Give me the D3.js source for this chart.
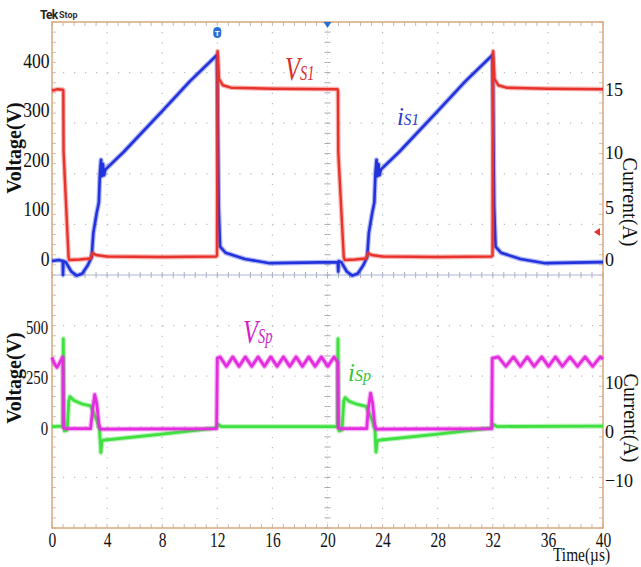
<!DOCTYPE html>
<html><head><meta charset="utf-8">
<script src="https://cdn.jsdelivr.net/npm/d3@7"></script>
<style>
html,body{margin:0;padding:0;background:#fff;}
svg{display:block;}
</style></head>
<body>
<script>
// ---------- tick labels ----------
const timeTicks = [0,4,8,12,16,20,24,28,32,36,40];
const vUpperTicks = [0,100,200,300,400];
const iUpperTicks = [0,5,10,15];
const vLowerTicks = [0,250,500];
const iLowerTicks = [-10,0,10];

// ---------- series (time in µs) ----------
// V_S1 (V), upper panel, left axis
const vS1 = [
 [0,338],[0.4,341],[0.78,340],[0.82,338],[0.84,215],[1.2,2],[1.25,-4],[2.0,-3],[2.8,-1],[2.95,10],[3.2,6],[4,3],[8,2],[11.9,3],[11.98,5],
 [12.02,418],[12.12,362],[12.4,349],[13,344],[16,342],[20.72,341],
 [20.76,338],[20.78,215],[21.18,2],[21.25,-4],[22,-3],[22.8,-1],[22.95,10],[23.2,6],[24,3],[28,2],[31.9,3],[31.98,5],
 [32.02,418],[32.12,362],[32.4,349],[33,344],[36,342],[40,341]
];
// i_S1 (A), upper panel, right axis
const iS1 = [
 [0,-0.2],[0.5,-0.1],[0.78,-0.2],[0.8,-1.5],[0.83,-0.2],[1.0,-0.3],[1.4,-1.2],[1.8,-1.6],[2.2,-1.4],[2.6,-0.6],[2.88,0.2],
 [3.0,2.5],[3.24,4.4],[3.4,5.4],[3.48,8.1],[3.56,9.3],[3.62,7.8],[3.7,8.9],[3.78,7.9],[3.87,8.4],[5.2,10.0],[8,13.25],[10,15.6],[11.98,17.7],
 [12.1,5],[12.2,1.2],[12.6,0.6],[14,0],[15.8,-0.4],[20.74,-0.3],
 [20.78,-1.2],[20.82,-0.2],[21.0,-0.3],[21.4,-1.2],[21.8,-1.6],[22.2,-1.4],[22.6,-0.6],[22.88,0.2],
 [23.0,2.5],[23.24,4.4],[23.4,5.4],[23.48,8.1],[23.56,9.3],[23.62,7.8],[23.7,8.9],[23.78,7.9],[23.87,8.4],[25.2,10.0],[28,13.25],[30,15.6],[31.98,17.7],
 [32.1,5],[32.2,1.2],[32.6,0.6],[34,0],[35.8,-0.4],[40,-0.3]
];
// V_Sp (V), lower panel, left axis
const vSp = [
 [0,350],[0.15,322],[0.36,300],[0.55,322],[0.76,350],[0.8,348],[0.84,0],[1.0,-3],[2.8,-3],[2.95,90],[3.1,165],[3.25,120],[3.4,20],[3.5,-6],[6,-5],[11.95,-3],
 [12.0,345],[12.2,352],[12.66,305],[13.12,352],[13.58,305],[14.04,352],[14.5,305],[14.96,352],[15.42,305],[15.88,352],[16.34,305],[16.8,352],
 [17.26,305],[17.72,352],[18.18,305],[18.64,352],[19.1,305],[19.56,352],[20.02,305],[20.48,352],[20.74,325],
 [20.78,0],[21,-3],[22.85,-3],[22.95,90],[23.13,172],[23.28,120],[23.42,20],[23.52,-6],[26,-5],[31.92,-3],
 [31.96,345],[32.4,352],[32.95,305],[33.5,352],[34.0,305],[34.5,352],[35.0,305],[35.55,352],[36.05,305],[36.55,352],[37.05,305],
 [37.6,352],[38.15,305],[38.7,352],[39.25,305],[39.8,352],[40,340]
];
// i_Sp (A), lower panel, right axis
const iSp = [
 [0,0.3],[0.78,0.4],[0.82,18.2],[0.86,3],[0.9,-0.6],[1.1,-0.4],[1.22,5.5],[1.3,6.4],[1.6,5.6],[2.2,4.9],[2.8,4.5],[2.95,3.5],[3.24,1.6],[3.45,-0.4],[3.55,-5],[3.62,-2.8],[3.7,-2.5],[7.8,-1.3],[11.9,0],
 [12.05,0.7],[12.3,0.3],[20.72,0.3],
 [20.76,18.2],[20.8,3],[20.84,-0.6],[21.05,-0.4],[21.18,5.5],[21.28,6.2],[21.6,5.4],[22.2,4.8],[22.8,4.4],[22.95,3.5],[23.24,1.6],[23.45,-0.4],[23.52,-4.9],[23.6,-2.8],[23.7,-2.5],[27.8,-1.3],[31.9,0],
 [32.05,0.7],[32.3,0.3],[40,0.4]
];

// ---------- drawing ----------
const W = 641, H = 567;
const svg = d3.select("body").append("svg").attr("width", W).attr("height", H);
const L = 52, R = 603, T = 22, B = 528;

const x = d3.scaleLinear().domain([0,40]).range([L,R]);
const yVU = d3.scaleLinear().domain([0,400]).range([258,60]);
const yIU = d3.scaleLinear().domain([0,5,10,15]).range([259,207,152,89]);
const yVL = d3.scaleLinear().domain([0,500]).range([428,327]);
const yIL = d3.scaleLinear().domain([-10,10]).range([477,379]);
const rows = d3.scaleLinear().domain([0,10]).range([T,B]); // screen divisions

const g = svg.append("g");

// grid dots
const gridColor = "#b9b9b9";
timeTicks.filter(t => t>0 && t<40 && t!==20).forEach(t => {
  g.append("line").attr("x1",x(t)).attr("x2",x(t)).attr("y1",T).attr("y2",B)
   .attr("stroke",gridColor).attr("stroke-width",1.2).attr("stroke-dasharray","1.2,8.92");
});
d3.range(1,10).filter(k=>k!==5).forEach(k => {
  g.append("line").attr("x1",L).attr("x2",R).attr("y1",rows(k)).attr("y2",rows(k))
   .attr("stroke",gridColor).attr("stroke-width",1.2).attr("stroke-dasharray","1.2,9.82");
});
// center crosshair
g.append("line").attr("x1",L).attr("x2",R).attr("y1",rows(5)).attr("y2",rows(5))
 .attr("stroke","#aab6d2").attr("stroke-width",1);
d3.range(0,40.01,0.8).forEach(t => {
  g.append("line").attr("x1",x(t)).attr("x2",x(t)).attr("y1",rows(5)-3).attr("y2",rows(5)+3).attr("stroke","#a8b0c4").attr("stroke-width",1);
  g.append("line").attr("x1",x(t)).attr("x2",x(t)).attr("y1",T).attr("y2",T+4).attr("stroke","#c9b9aa").attr("stroke-width",1);
  g.append("line").attr("x1",x(t)).attr("x2",x(t)).attr("y1",B-4).attr("y2",B).attr("stroke","#c9b9aa").attr("stroke-width",1);
});
d3.range(0,10.01,0.2).forEach(k => {
  g.append("line").attr("x1",x(20)-3).attr("x2",x(20)+3).attr("y1",rows(k)).attr("y2",rows(k)).attr("stroke","#a8a8b4").attr("stroke-width",1);
  g.append("line").attr("x1",L).attr("x2",L+4).attr("y1",rows(k)).attr("y2",rows(k)).attr("stroke","#d0c0b4").attr("stroke-width",1);
  g.append("line").attr("x1",R-4).attr("x2",R).attr("y1",rows(k)).attr("y2",rows(k)).attr("stroke","#d0c0b4").attr("stroke-width",1);
});
g.append("line").attr("x1",x(20)).attr("x2",x(20)).attr("y1",T).attr("y2",B).attr("stroke","#c8c8d0").attr("stroke-width",0.8).attr("stroke-dasharray","1,3");

// frame
g.append("rect").attr("x",L).attr("y",T).attr("width",R-L).attr("height",B-T)
 .attr("fill","none").attr("stroke","#d8a87c").attr("stroke-width",1.5);

// traces (fuzzy band + core, like a scope trace)
function trace(data, ys, color, sw){
  const line = d3.line().x(d=>x(d[0])).y(d=>ys(d[1]));
  g.append("path").datum(data).attr("d",line).attr("fill","none")
   .attr("stroke",color).attr("stroke-opacity",0.35).attr("stroke-width",sw+2.4).attr("stroke-linejoin","round");
  g.append("path").datum(data).attr("d",line).attr("fill","none")
   .attr("stroke",color).attr("stroke-width",sw).attr("stroke-linejoin","round");
}
trace(iS1, yIU, "#2233dd", 2.6);
trace(vS1, yVU, "#e8322c", 2.4);
trace(iSp, yIL, "#3fe040", 2.8);
trace(vSp, yVL, "#e52de0", 2.8);

// axes
const serif = "'Liberation Serif','Times New Roman',serif";
function styleAxis(sel, size, sx){
  sel.select(".domain").remove();
  sel.selectAll(".tick line").remove();
  sel.selectAll("text").attr("font-family",serif).attr("font-size",size).attr("fill","#111");
  if (sx) sel.selectAll("text").attr("transform",`scale(${sx},1)`);
}
svg.append("g").attr("transform",`translate(${L},0)`)
  .call(d3.axisLeft(yVU).tickValues(vUpperTicks).tickSize(0).tickPadding(3))
  .call(s=>styleAxis(s,22,0.8));
svg.append("g").attr("transform",`translate(${L},0)`)
  .call(d3.axisLeft(yVL).tickValues(vLowerTicks).tickSize(0).tickPadding(5))
  .call(s=>styleAxis(s,19,0.78));
svg.append("g").attr("transform",`translate(${R},0)`)
  .call(d3.axisRight(yIU).tickValues(iUpperTicks).tickSize(0).tickPadding(2))
  .call(s=>styleAxis(s,19,0.95));
svg.append("g").attr("transform",`translate(${R},0)`)
  .call(d3.axisRight(yIL).tickValues(iLowerTicks).tickSize(0).tickPadding(2))
  .call(s=>{styleAxis(s,19,0.95); s.selectAll("text").attr("dy","0.5em");});
svg.append("g").attr("transform",`translate(0,${B})`)
  .call(d3.axisBottom(x).tickValues(timeTicks).tickFormat(d3.format("d")).tickSize(0).tickPadding(4))
  .call(s=>styleAxis(s,21,0.74));

// axis titles
svg.append("text").attr("transform","translate(21,148) rotate(-90)").attr("text-anchor","middle")
  .attr("font-family",serif).attr("font-weight","bold").attr("font-size",20).attr("fill","#111").text("Voltage(V)");
svg.append("text").attr("transform","translate(21,378) rotate(-90)").attr("text-anchor","middle")
  .attr("font-family",serif).attr("font-weight","bold").attr("font-size",20).attr("fill","#111").text("Voltage(V)");
svg.append("text").attr("transform","translate(623,202) rotate(90)").attr("text-anchor","middle")
  .attr("font-family",serif).attr("font-size",20).attr("fill","#111").text("Current(A)");
svg.append("text").attr("transform","translate(624,418) rotate(90)").attr("text-anchor","middle")
  .attr("font-family",serif).attr("font-size",20).attr("fill","#111").text("Current(A)");
svg.append("text").attr("x",553).attr("y",561).attr("font-family",serif).attr("font-size",18)
  .attr("textLength",57).attr("lengthAdjust","spacingAndGlyphs").attr("fill","#111").text("Time(µs)");

// trace labels
function label(xp, yp, main, sub, color, s1, s2, sx){
  const t = svg.append("text").attr("transform",`translate(${xp},${yp}) scale(${sx},1)`)
    .attr("font-family",serif).attr("font-style","italic").attr("fill",color);
  t.append("tspan").attr("font-size",s1).text(main);
  t.append("tspan").attr("font-size",s2).text(sub);
}
label(285,80,"V","S1","#d8302a",34,20,0.72);
label(397,125,"i","S1","#2c3cc8",26,16,0.95);
label(243,343,"V","Sp","#d21fce",34,20,0.72);
label(348,381,"i","Sp","#34c634",26,17,0.95);

// scope markers
svg.append("text").attr("x",40).attr("y",19).attr("font-family","Roboto, sans-serif").attr("font-weight","bold")
  .attr("font-size",12).attr("letter-spacing",-0.8).attr("fill","#222").text("Tek");
svg.append("text").attr("x",59).attr("y",18).attr("font-family","Roboto, sans-serif").attr("font-weight","bold")
  .attr("font-size",9).attr("fill","#333").text("Stop");
svg.append("rect").attr("x",x(12)-4).attr("y",27).attr("width",8).attr("height",11).attr("rx",4).attr("fill","#2b6fd6");
svg.append("text").attr("x",x(12)).attr("y",36).attr("text-anchor","middle").attr("font-family","Roboto, sans-serif")
  .attr("font-weight","bold").attr("font-size",8).attr("fill","#fff").text("T");
svg.append("path").attr("d",`M${x(20)-4},${T} L${x(20)+4},${T} L${x(20)},${T+6} Z`).attr("fill","#2b6fd6");
svg.append("path").attr("d",`M${R-3},228 L${R-9},232 L${R-3},236 Z`).attr("fill","#e83030");
</script>
</body></html>
